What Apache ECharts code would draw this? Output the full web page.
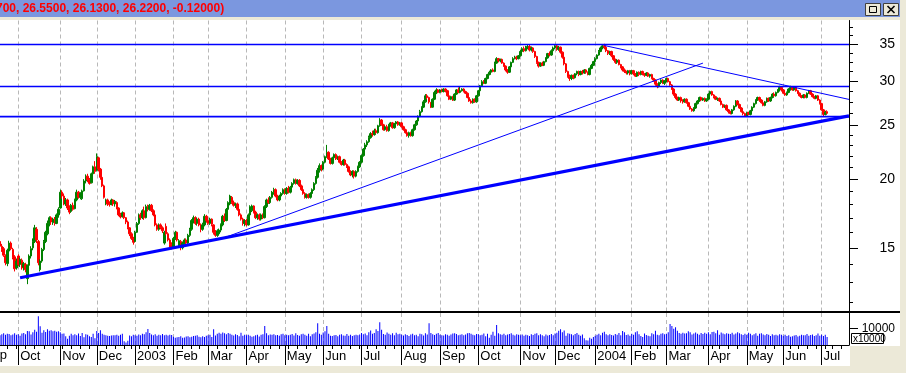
<!DOCTYPE html>
<html><head><meta charset="utf-8">
<script src="https://cdn.jsdelivr.net/npm/echarts@6/dist/echarts.min.js"></script>
<style>html,body{margin:0;padding:0;background:#fff;overflow:hidden}#c{width:906px;height:373px}</style>
</head><body><div id="c"></div>
<script>
// ---------- data ----------
const firstCategory = '2002-09-17';
const categoryCount = 466;
const holidays = ['2002-11-28','2002-12-25','2003-01-01','2003-01-20','2003-02-17','2003-04-18','2003-05-26','2003-07-04','2003-09-01','2003-11-27','2003-12-25','2004-01-01','2004-01-19','2004-02-16','2004-04-09','2004-05-31','2004-06-11','2004-07-05'];
const monthNames = ['Jan','Feb','Mar','Apr','May','Jun','Jul','Aug','Sep','Oct','Nov','Dec'];
const leadingMonthLabel = 'Sep';

// [open, close, low, high]
const candles = [
// Sep 2002
[15.40,15.10,15.00,15.50],[15.10,14.90,14.75,15.25],[14.95,14.55,14.45,15.05],[14.50,14.10,13.95,14.60],[14.05,14.85,13.90,14.95],[14.80,15.30,14.70,15.45],[15.30,14.95,14.85,15.40],[14.90,14.40,14.30,15.00],[14.45,13.75,13.60,14.55],[13.80,14.20,13.70,14.35],
// Oct 2002
[14.50,14.00,13.90,14.60],[14.00,14.30,13.85,14.40],[14.25,13.80,13.70,14.35],[13.85,14.05,13.65,14.15],[14.00,13.70,13.55,14.10],[13.20,13.95,12.90,14.00],[13.95,14.50,13.80,14.60],[14.50,14.95,14.35,15.10],[15.00,15.40,14.85,15.60],[15.40,16.30,15.30,16.50],
[16.20,15.50,15.30,16.35],[15.40,14.10,13.95,15.50],[13.70,14.20,13.60,14.30],[14.20,14.90,14.10,15.00],[14.90,15.40,14.80,15.50],[15.40,16.00,15.30,16.10],[15.90,16.60,15.80,16.80],[16.60,17.00,16.40,17.10],[17.00,16.70,16.50,17.10],[16.65,16.90,16.50,17.00],
[16.90,16.60,16.45,17.05],[16.60,17.20,16.55,17.30],[17.20,17.60,17.00,17.75],
// Nov 2002
[17.70,18.90,17.65,19.10],[18.90,18.60,18.40,19.05],[18.60,18.00,17.90,18.80],[18.00,18.30,17.85,18.45],[18.30,17.70,17.55,18.40],[17.70,17.40,17.25,17.90],[17.45,17.90,17.35,18.00],[17.90,17.60,17.50,18.10],[17.65,18.30,17.60,18.40],[18.30,18.90,18.20,19.10],
[18.90,18.50,18.40,19.00],[18.50,18.80,18.35,18.90],[18.40,19.00,18.30,19.10],[19.00,19.80,18.95,19.95],[19.80,20.20,19.60,20.35],[20.20,19.90,19.70,20.40],[19.90,19.60,19.50,20.05],[19.65,20.40,19.60,20.50],[20.40,21.00,20.30,21.10],[21.00,20.60,20.40,21.50],
// Dec 2002
[20.70,21.90,20.60,22.20],[21.80,20.80,20.60,21.90],[20.80,20.10,19.90,20.90],[20.10,19.40,19.30,20.20],[19.40,18.50,18.40,19.50],[18.00,18.30,17.90,18.40],[18.30,18.00,17.85,18.40],[18.05,17.95,17.80,18.20],[17.95,18.30,17.90,18.40],[18.30,18.00,17.85,18.35],
[18.00,18.20,17.80,18.30],[18.10,17.70,17.60,18.20],[17.70,17.20,17.10,17.75],[17.20,17.05,16.95,17.35],[17.10,17.35,17.00,17.45],[17.35,17.00,16.90,17.40],[17.00,16.70,16.55,17.05],[16.70,16.30,16.20,16.80],[16.30,15.90,15.75,16.35],[15.90,15.60,15.50,16.00],
[15.60,15.35,15.20,15.70],
// Jan 2003
[15.40,16.00,15.35,16.10],[16.00,16.60,15.95,16.70],[16.60,17.20,16.50,17.30],[17.20,17.00,16.85,17.35],[17.00,17.50,16.90,17.60],[17.50,17.00,16.85,17.80],[17.00,17.80,16.95,17.95],[17.80,17.60,17.45,17.95],[17.60,17.90,17.50,18.00],[17.90,17.50,17.40,18.00],
[17.50,17.20,17.10,17.60],[17.20,16.50,16.40,17.25],[16.50,16.20,16.10,16.60],[16.20,16.50,16.10,16.60],[16.50,16.30,16.20,16.60],[16.30,16.10,15.95,16.40],[15.30,16.00,15.20,16.10],[16.40,15.90,15.80,16.60],[15.90,15.50,15.40,16.00],[15.50,15.20,15.05,15.60],
[15.20,15.00,14.90,15.35],
// Feb 2003
[15.00,15.60,14.95,15.70],[15.60,16.00,15.50,16.10],[16.00,15.50,15.40,16.05],[15.15,15.45,15.10,15.55],[15.40,15.05,14.85,15.50],[15.00,15.30,14.90,15.40],[15.30,15.50,15.20,15.60],[15.50,15.30,15.20,15.60],[15.30,15.80,15.25,15.90],[15.80,16.20,15.70,16.30],
[16.20,16.80,16.10,16.90],[16.80,17.00,16.60,17.15],[17.00,16.60,16.50,17.10],[16.60,16.90,16.45,17.00],[16.90,16.50,16.40,17.00],[16.50,16.20,16.00,16.60],[16.20,16.50,16.10,16.65],[16.50,17.10,16.40,17.25],[17.10,16.80,16.65,17.20],
// Mar 2003
[16.80,16.60,16.50,16.95],[16.60,16.90,16.50,17.00],[16.90,16.55,16.40,16.95],[16.50,16.00,15.85,16.55],[16.00,15.80,15.70,16.15],[15.80,16.10,15.70,16.20],[15.90,16.15,15.80,16.25],[16.15,16.50,16.00,16.60],[16.50,17.10,16.40,17.20],[17.10,16.80,16.70,17.30],
[16.80,17.60,16.75,17.70],[17.60,18.10,17.50,18.20],[18.00,18.60,17.90,18.70],[18.50,18.10,18.00,18.60],[18.10,17.90,17.80,18.25],[17.90,18.00,17.70,18.10],[18.00,17.60,17.50,18.10],[17.60,17.20,17.10,17.70],[17.20,16.90,16.80,17.30],[16.90,16.60,16.45,17.00],
[16.60,16.80,16.40,16.90],
// Apr 2003
[16.80,16.50,16.40,16.90],[16.50,17.20,16.45,17.30],[17.20,17.80,17.10,17.90],[17.50,17.85,17.40,17.95],[17.85,17.40,17.30,17.90],[17.40,17.00,16.90,17.50],[17.00,17.20,16.85,17.30],[17.20,16.90,16.80,17.30],[16.90,17.20,16.80,17.30],[17.20,17.00,16.90,17.30],
[17.00,17.80,16.95,17.90],[17.80,18.30,17.70,18.40],[18.30,18.10,18.00,18.50],[18.10,18.50,18.00,18.60],[18.50,18.90,18.40,19.00],[18.90,19.10,18.70,19.25],[19.10,18.60,18.50,19.20],[18.60,18.30,18.20,18.70],[18.30,18.60,18.20,18.70],[18.60,18.80,18.40,18.90],
[18.80,19.10,18.70,19.20],
// May 2003
[19.10,18.80,18.70,19.20],[18.80,19.20,18.70,19.30],[19.20,18.90,18.80,19.40],[18.90,19.30,18.80,19.40],[19.30,19.60,19.20,19.70],[19.60,19.90,19.50,20.00],[19.90,19.60,19.50,20.00],[19.60,19.85,19.50,19.95],[19.85,19.40,19.30,19.95],[19.40,19.10,19.00,19.50],
[19.10,18.80,18.70,19.20],[18.80,18.50,18.40,18.90],[18.50,18.70,18.40,18.80],[18.70,18.50,18.40,18.80],[18.50,18.80,18.40,18.90],[18.80,19.10,18.70,19.20],[19.10,19.60,19.00,19.70],[19.60,20.10,19.50,20.20],[20.10,20.70,20.00,20.90],[20.70,21.10,20.50,21.30],
[21.10,20.80,20.60,21.20],
// Jun 2003
[20.80,21.40,20.70,21.50],[21.40,21.90,21.30,22.00],[21.90,22.30,21.80,23.00],[22.30,21.70,21.60,22.40],[21.70,21.30,21.20,21.80],[21.30,21.80,21.20,21.90],[21.80,22.10,21.70,22.20],[22.10,21.70,21.60,22.20],[21.70,21.90,21.60,22.00],[21.90,21.40,21.30,22.00],
[21.40,21.20,21.10,21.50],[21.20,21.60,21.10,21.70],[21.60,21.20,21.10,21.70],[21.20,21.00,20.90,21.30],[21.00,20.60,20.50,21.10],[20.60,20.30,20.20,20.70],[20.30,20.60,20.10,20.70],[20.60,20.20,20.00,20.70],[20.20,20.60,20.10,20.70],[20.60,21.00,20.50,21.10],
[21.00,21.40,20.90,21.50],
// Jul 2003
[21.40,22.00,21.30,22.10],[22.00,22.60,21.90,22.70],[22.60,23.00,22.50,23.20],[23.00,23.30,22.80,23.45],[23.30,23.70,23.20,23.90],[23.70,24.10,23.60,24.25],[24.10,24.00,23.80,24.40],[24.00,24.40,23.90,24.60],[24.40,24.20,24.10,24.60],[24.20,24.90,24.10,25.00],
[24.90,25.50,24.80,25.70],[25.50,25.00,24.90,25.60],[25.00,24.50,24.40,25.10],[24.50,24.80,24.40,24.90],[24.80,24.40,24.30,25.00],[24.40,25.00,24.30,25.10],[25.00,25.20,24.80,25.30],[25.20,24.70,24.60,25.30],[24.70,25.10,24.60,25.20],[25.10,25.30,25.00,25.40],
[25.30,25.00,24.90,25.40],[25.00,25.20,24.90,25.30],
// Aug 2003
[25.20,24.80,24.70,25.30],[24.80,24.50,24.40,24.90],[24.50,24.20,24.10,24.60],[24.20,23.90,23.80,24.30],[23.90,24.20,23.70,24.30],[24.20,23.90,23.80,24.30],[23.90,24.50,23.80,24.60],[24.50,25.00,24.40,25.10],[25.00,25.40,24.90,25.50],[25.40,25.90,25.30,26.00],
[25.90,26.40,25.80,26.60],[26.40,26.90,26.30,27.00],[26.90,27.50,26.80,27.70],[27.50,28.20,27.40,28.40],[28.20,28.00,27.80,28.40],[28.00,27.50,27.30,28.10],[27.40,26.90,26.80,27.50],[26.90,27.80,26.85,27.90],[27.80,28.60,27.70,28.80],[28.60,28.90,28.40,29.10],
[28.90,28.60,28.50,29.00],
// Sep 2003
[28.60,28.90,28.50,29.00],[28.90,28.70,28.60,29.05],[28.70,29.00,28.60,29.10],[29.00,28.80,28.60,29.10],[28.80,28.20,28.10,28.90],[28.20,27.80,27.70,28.30],[27.80,28.10,27.70,28.20],[28.10,27.70,27.60,28.20],[27.70,28.40,27.60,28.50],[28.40,28.90,28.30,29.00],
[28.90,28.60,28.50,29.20],[28.60,28.80,28.50,29.30],[28.80,29.00,28.70,29.10],[29.00,28.70,28.60,29.10],[28.70,28.50,28.40,28.80],[28.50,28.00,27.90,28.60],[28.00,27.60,27.50,28.10],[27.60,27.40,27.30,27.80],[27.40,27.80,27.30,27.90],[27.80,27.50,27.40,27.90],
[27.50,28.20,27.40,28.30],
// Oct 2003
[28.20,28.80,28.10,28.90],[28.80,29.40,28.70,29.50],[29.40,29.90,29.30,30.10],[29.90,29.70,29.60,30.10],[29.70,30.30,29.60,30.40],[30.30,30.80,30.20,30.90],[30.80,31.10,30.70,31.30],[31.10,31.40,31.00,31.50],[31.40,31.20,31.10,31.60],[31.20,32.30,31.10,32.50],
[32.30,32.90,32.20,33.10],[32.90,32.60,32.40,33.00],[32.60,32.80,32.40,32.90],[32.80,32.30,32.20,32.90],[32.30,31.90,31.80,32.40],[31.90,31.40,31.20,32.00],[31.40,31.10,30.90,31.50],[31.10,31.80,31.00,31.90],[31.80,32.40,31.70,32.50],[32.40,32.90,32.30,33.10],
[32.90,33.10,32.80,33.30],[33.10,32.90,32.70,33.30],[32.90,33.30,32.80,33.40],
// Nov 2003
[33.30,33.90,33.20,34.10],[33.90,34.30,33.80,34.50],[34.30,34.00,33.80,34.60],[34.00,34.40,33.90,34.70],[34.40,34.60,34.20,34.95],[34.60,34.10,33.90,34.90],[34.10,34.40,33.90,34.60],[34.40,33.90,33.70,34.50],[33.90,33.20,33.00,34.00],[33.20,32.40,32.20,33.30],
[32.40,31.90,31.70,32.50],[31.90,32.30,31.80,32.40],[32.30,32.00,31.90,32.50],[32.00,32.50,31.90,32.60],[32.50,33.00,32.40,33.10],[33.00,33.60,32.90,33.70],[33.60,33.40,33.20,33.90],[33.40,34.00,33.30,34.20],[34.00,34.40,33.90,34.60],
// Dec 2003
[34.40,34.70,34.20,34.95],[34.70,34.20,34.00,34.90],[34.20,34.50,34.00,34.70],[34.50,33.80,33.60,34.60],[33.80,33.10,32.90,33.90],[33.10,32.20,32.00,33.20],[32.20,31.20,31.00,32.30],[31.20,30.60,30.40,31.30],[30.60,30.30,30.00,30.80],[30.30,30.70,30.10,30.80],
[30.70,30.40,30.20,30.80],[30.40,30.90,30.30,31.00],[30.90,31.20,30.70,31.30],[31.20,30.80,30.60,31.30],[30.80,31.20,30.70,31.30],[31.20,31.00,30.80,31.40],[31.00,31.40,30.90,31.50],[31.40,31.10,30.90,31.50],[31.10,30.80,30.70,31.20],[30.80,31.60,30.70,31.70],
[31.60,32.00,31.50,32.20],[32.00,32.50,31.90,32.60],
// Jan 2004
[32.50,32.90,32.40,33.10],[32.90,33.40,32.80,33.50],[33.40,33.90,33.30,34.10],[33.90,34.40,33.80,34.60],[34.40,34.70,34.20,34.90],[34.70,34.50,34.20,35.00],[34.50,34.00,33.80,34.70],[34.00,33.60,33.40,34.10],[33.60,33.90,33.40,34.00],[33.90,33.30,33.10,34.00],
[33.30,32.80,32.60,33.40],[32.80,32.40,32.20,32.90],[32.40,32.70,32.20,32.80],[32.70,32.10,32.00,32.80],[32.10,31.80,31.60,32.20],[31.80,31.40,31.20,31.90],[31.40,31.20,31.00,31.60],[31.20,31.00,30.80,31.30],[31.00,31.30,30.80,31.40],[31.30,30.90,30.70,31.40],
// Feb 2004
[30.90,31.30,30.80,31.40],[31.30,30.90,30.70,31.40],[30.90,30.60,30.50,31.00],[30.60,31.10,30.50,31.20],[31.10,30.80,30.60,31.20],[30.80,31.20,30.70,31.30],[31.20,30.90,30.70,31.30],[30.90,30.70,30.50,31.00],[30.70,31.00,30.60,31.10],[31.00,30.60,30.50,31.10],
[30.60,30.80,30.40,30.90],[30.80,30.30,30.20,30.90],[30.30,30.10,29.90,30.40],[30.10,29.60,29.40,30.20],[29.60,29.30,29.10,29.70],[29.30,29.80,29.20,29.90],[29.80,30.10,29.60,30.20],[30.10,29.70,29.60,30.20],[29.70,30.00,29.50,30.10],
// Mar 2004
[30.00,30.30,29.80,30.40],[30.30,29.90,29.80,30.40],[29.90,29.50,29.40,30.00],[29.50,29.00,28.90,29.60],[29.00,28.40,28.20,29.10],[28.40,28.00,27.80,28.50],[28.00,27.70,27.60,28.10],[27.70,28.00,27.60,28.10],[28.00,27.60,27.40,28.10],[27.60,27.50,27.30,27.80],
[27.50,27.80,27.40,27.90],[27.80,27.40,27.30,27.90],[27.40,27.00,26.90,27.50],[27.00,26.70,26.60,27.10],[26.70,26.50,26.40,26.80],[26.50,26.80,26.40,26.90],[26.80,27.30,26.70,27.40],[27.30,27.60,27.20,27.70],[27.60,28.00,27.50,28.10],[28.00,27.70,27.60,28.10],
[27.70,27.90,27.60,28.00],[27.90,27.60,27.50,28.00],[27.60,27.80,27.50,27.90],
// Apr 2004
[27.80,28.40,27.70,28.50],[28.40,28.70,28.30,28.80],[28.70,28.30,28.20,28.80],[28.30,28.10,27.90,28.40],[28.10,27.80,27.70,28.20],[27.80,27.90,27.60,28.00],[27.90,27.60,27.50,28.00],[27.60,27.20,27.10,27.70],[27.20,26.90,26.80,27.30],[26.90,27.10,26.80,27.20],
[27.10,26.60,26.50,27.20],[26.60,26.40,26.20,26.70],[26.40,26.20,26.10,26.50],[26.20,26.60,26.10,26.70],[26.60,27.00,26.50,27.10],[27.00,27.60,26.90,27.70],[27.60,27.20,27.10,27.70],[27.20,26.80,26.70,27.30],[26.80,26.40,26.30,26.90],[26.40,26.20,26.00,26.50],
[26.20,25.90,25.85,26.30],
// May 2004
[25.90,26.30,25.85,26.40],[26.30,26.10,26.00,26.40],[26.10,26.50,26.00,26.60],[26.50,26.90,26.40,27.00],[26.90,27.30,26.80,27.40],[27.30,27.70,27.20,27.80],[27.70,28.00,27.60,28.10],[28.00,27.70,27.50,28.10],[27.70,27.40,27.30,27.80],[27.40,27.10,27.00,27.50],
[27.10,27.50,27.00,27.60],[27.50,27.90,27.40,28.00],[27.90,27.60,27.50,28.00],[27.60,28.00,27.50,28.10],[28.00,28.40,27.90,28.50],[28.40,28.20,28.10,28.60],[28.20,28.60,28.10,28.70],[28.60,28.90,28.50,29.00],[28.90,29.20,28.70,29.40],[29.20,28.90,28.70,29.30],
// Jun 2004
[28.90,28.50,28.40,29.00],[28.50,28.30,28.20,28.60],[28.30,28.60,28.20,28.70],[28.60,29.00,28.50,29.10],[29.00,29.20,28.80,29.40],[29.20,28.90,28.80,29.30],[28.90,29.20,28.80,29.30],[29.20,28.80,28.70,29.30],[28.80,28.50,28.40,28.90],[28.50,28.20,28.10,28.60],
[28.20,28.00,27.90,28.30],[28.00,28.30,27.90,28.40],[28.30,28.00,27.90,28.40],[28.00,28.50,27.90,28.60],[28.50,28.80,28.40,28.90],[28.80,28.40,28.30,28.90],[28.40,28.10,28.00,28.50],[28.10,27.90,27.80,28.20],[27.90,28.20,27.80,28.30],[28.20,27.70,27.60,28.30],
[27.70,27.30,27.20,27.80],
// Jul 2004
[27.30,26.60,26.50,27.40],[26.60,26.10,25.85,26.70],[26.10,26.34,26.00,26.50],[26.40,26.22,26.13,26.55]
];

// volume, in units of the axis (x10000)
const volume = [
5800,6400,7100,6200,6800,6600,5900,6300,7000,6100,
6500,5600,6900,7200,6400,8400,8200,6300,7600,9200,8000,17300,11200,7400,8900,7800,9400,8600,8800,8200,8500,7900,8300,
7600,6700,6900,5200,3800,5600,6700,5800,6500,5900,6900,5400,7200,4600,6400,6100,5200,4800,6700,4100,
8400,7200,8800,6700,6200,5800,5600,5400,5700,5900,5800,6100,5600,6200,6800,2300,1500,2600,5700,5300,6100,
5800,5600,6300,5900,6700,6400,7600,9600,7200,6300,5800,6400,5500,6200,5900,6600,5800,6100,5700,6200,6000,
4900,4400,4600,4800,5200,4300,4500,5100,5300,4700,4900,5400,5600,5800,5000,4700,5300,4800,5500,
5900,6200,4800,9500,5700,6800,7400,6700,7500,7000,6500,7200,6800,6100,5700,6400,6000,5300,7300,5600,6200,
5800,6100,5500,4900,5300,5800,6200,5100,6200,6500,11400,7000,5900,6300,6100,6400,5800,6000,5500,6500,6700,
5900,6200,5800,6100,6600,5700,7100,6000,5600,6500,6800,6100,5500,6700,5200,6400,6900,7600,13000,6700,6200,
7500,8300,11400,6800,5600,5400,5800,6000,5300,6100,6400,5700,5500,6600,5600,6200,5400,5900,6100,5800,6300,
7200,6400,6900,5800,7600,8700,6700,7200,9400,8400,13700,9100,6600,6200,7500,6700,6200,7000,5800,7300,6400,6700,
6100,5700,6500,6000,5400,6300,6700,5900,6100,5200,6800,6400,5700,7100,6300,13100,7200,6400,6000,6800,7200,
6200,5900,5700,6400,6100,5600,6300,6900,7100,6600,5800,6200,6500,5900,6300,7000,7200,6800,6100,5900,6600,
6500,5800,6200,6900,5300,6700,4300,6100,8000,5600,12000,7100,6400,6200,6800,5900,6300,6600,7000,6200,5700,6400,6100,
5800,6300,5600,6200,5900,5400,6500,6000,6800,7100,5800,6400,5900,5200,6300,5700,6000,6600,5800,
6900,7400,8600,9400,7600,8700,5600,7000,6700,6400,5900,6600,7200,6100,5500,6300,4000,2900,2700,4300,3800,4800,
5600,6200,6800,5900,7300,7900,6500,5800,6400,6000,5700,6600,6100,7200,5900,8400,7600,6000,6300,5500,
6700,6200,7600,8300,6500,5400,4800,6900,6000,5600,5300,7100,6400,8600,6200,5900,6700,7000,6400,
6800,7700,12600,11400,9800,10600,8600,7200,6800,7400,6900,7100,8200,7600,6300,6900,7500,6700,6100,7200,6600,7300,6800,
7600,6500,7800,8000,7100,8900,6200,7500,6900,6400,7100,6800,6600,7400,6300,6900,7600,7000,6500,6000,6800,
6200,7300,6700,5900,6500,7100,5600,6800,7000,6300,5800,6600,6100,5400,6500,5900,6200,5700,6400,6100,
5600,6100,5400,5800,4900,5300,5700,6000,5100,5500,6200,5800,5900,6600,5500,6000,6300,5400,5800,6900,5600,
6200,5400,6100,4800
];

const priceMax = 38.55, priceMin = 11.54;
const volumeMax = 19200;
const priceTickValues = [15, 20, 25, 30, 35];
const priceTickLabels = ['15', '20', '25', '30', '35'];
const priceMinorTicks = [12, 13, 14, 16, 17, 18, 19, 21, 22, 23, 24, 26.25, 27.5, 28.75, 31.25, 32.5, 33.75, 36.25, 37.5];
const volumeTickValues = [10000];
const volumeTickLabels = ['10000'];
const horizontalLevels = [34.9, 29.31, 25.86];
const trendThick = [['2002-10-02', 13.25], ['2004-07-23', 25.95]];
const trendUp = [['2003-03-14', 15.65], ['2004-03-29', 32.3]];
const trendDown = [['2004-01-09', 34.75], ['2004-07-23', 27.78]];
const titleText = '700, 26.5500, 26.1300, 26.2200, -0.12000)';

// ---------- categories (trading days) ----------
function iso(d) { return d.toISOString().slice(0, 10); }
const dates = [];
{
  const hs = new Set(holidays);
  const d = new Date(firstCategory + 'T00:00:00Z');
  while (dates.length < categoryCount) {
    const wd = d.getUTCDay();
    const s = iso(d);
    if (wd !== 0 && wd !== 6 && !hs.has(s)) dates.push(s);
    d.setUTCDate(d.getUTCDate() + 1);
  }
}
const monthStart = dates.map((s, i) => i > 0 && s.slice(5, 7) !== dates[i - 1].slice(5, 7));
const weekStart = dates.map((s, i) => {
  if (i === 0) return false;
  const a = new Date(s + 'T00:00:00Z').getUTCDay(), b = new Date(dates[i - 1] + 'T00:00:00Z').getUTCDay();
  return a < b && !monthStart[i];
});
const monthFn = (i) => monthStart[i];
const weekFn = (i) => weekStart[i];
const labelFn = (v) => {
  const m = +v.slice(5, 7);
  return m === 1 ? v.slice(0, 4) : monthNames[m - 1];
};

const FONT = 'Liberation Sans, Arial, sans-serif';
const dash = { color: '#b8b8b8', width: 1, type: [4, 3] };

function tickSeries(xi, yi, values, labels, len, fontSize) {
  return {
    type: 'custom', xAxisIndex: xi, yAxisIndex: yi, clip: false, silent: true, z: 10,
    data: values.map((v) => [0, v]),
    renderItem: function (params, api) {
      const y = Math.round(api.coord([0, api.value(1)])[1]) + 0.5;
      const x0 = params.coordSys.x + params.coordSys.width;
      const ch = [{ type: 'line', shape: { x1: x0, y1: y, x2: x0 + len, y2: y }, style: { stroke: '#000', lineWidth: 1 } }];
      if (labels) {
        ch.push({ type: 'text', style: { x: 895, y: y, text: labels[params.dataIndex], fill: '#000', font: fontSize + 'px ' + FONT, align: 'right', verticalAlign: 'middle' } });
      }
      return { type: 'group', children: ch };
    }
  };
}

function lineSeries(data, width) {
  return {
    type: 'line', xAxisIndex: 0, yAxisIndex: 0, data: data, symbol: 'none', silent: true, z: 4,
    lineStyle: { color: '#0000ff', width: width }, animation: false
  };
}

const series = [
  {
    type: 'candlestick', xAxisIndex: 0, yAxisIndex: 0, data: candles, barWidth: 2, z: 3,
    itemStyle: { color: '#008000', color0: '#ff0000', borderColor: '#008000', borderColor0: '#ff0000', borderWidth: 1 }
  },
  {
    type: 'bar', xAxisIndex: 1, yAxisIndex: 1, data: volume, barWidth: 1, itemStyle: { color: '#0000ff' }, large: false
  },
  lineSeries(trendThick, 3.2),
  lineSeries(trendUp, 1),
  lineSeries(trendDown, 1),
  tickSeries(0, 0, priceTickValues, priceTickLabels, 9, 14),
  tickSeries(0, 0, priceMinorTicks, null, 4, 14),
  tickSeries(1, 1, volumeTickValues, volumeTickLabels, 9, 12)
];
horizontalLevels.forEach((p) => series.push(lineSeries([[dates[0], p], [dates[dates.length - 1], p]], 1.6)));

const option = {
  animation: false,
  backgroundColor: '#ffffff',
  grid: [
    { left: 0, right: 57, top: 20.5, bottom: 62 },
    { left: 0, right: 57, top: 313, bottom: 28 }
  ],
  xAxis: [
    { gridIndex: 0, type: 'category', data: dates, boundaryGap: false, axisLine: { show: false }, axisTick: { show: false }, axisLabel: { show: false },
      splitLine: { show: true, interval: monthFn, lineStyle: dash } },
    { gridIndex: 1, type: 'category', data: dates, boundaryGap: false, position: 'bottom',
      axisLine: { show: true, onZero: false, lineStyle: { color: '#000', width: 1 } },
      axisTick: { show: true, interval: monthFn, length: 20, lineStyle: { color: '#000' } },
      axisLabel: { show: true, interval: monthFn, formatter: labelFn, align: 'left', padding: [0, 0, 0, 2], margin: 5, color: '#000', fontSize: 13, fontFamily: FONT },
      splitLine: { show: true, interval: monthFn, lineStyle: dash } },
    { gridIndex: 1, type: 'category', data: dates, boundaryGap: false, position: 'bottom', axisLine: { show: false, onZero: false },
      axisTick: { show: true, interval: weekFn, length: 4, lineStyle: { color: '#000' } }, axisLabel: { show: false }, splitLine: { show: false } }
  ],
  yAxis: [
    { gridIndex: 0, type: 'log', logBase: 10, min: priceMin, max: priceMax, position: 'right',
      axisLine: { show: true, lineStyle: { color: '#000' } }, axisTick: { show: false }, axisLabel: { show: false }, splitLine: { show: false } },
    { gridIndex: 1, type: 'value', min: 0, max: volumeMax, position: 'right',
      axisLine: { show: true, lineStyle: { color: '#000' } }, axisTick: { show: false }, axisLabel: { show: false }, splitLine: { show: false } }
  ],
  series: series,
  graphic: [
    { type: 'text', x: -16.2, y: 349, style: { text: leadingMonthLabel, fill: '#000', font: '13px ' + FONT }, z: 50 },
    { type: 'rect', shape: { x: 0, y: 0, width: 900, height: 17 }, style: { fill: '#7b97df' }, z: 100 },
    { type: 'text', x: -4, y: 9, style: { text: titleText, fill: '#ff0000', font: 'bold 12px ' + FONT, verticalAlign: 'middle' }, z: 101 },
    { type: 'rect', shape: { x: 0, y: 17, width: 900, height: 3 }, style: { fill: '#ece9d8' }, z: 100 },
    { type: 'rect', shape: { x: 865.5, y: 3.5, width: 15, height: 12 }, style: { fill: '#ece9d8', stroke: '#404040', lineWidth: 1 }, z: 101 },
    { type: 'rect', shape: { x: 869.5, y: 6.5, width: 7, height: 6 }, style: { fill: 'none', stroke: '#000', lineWidth: 1 }, z: 102 },
    { type: 'rect', shape: { x: 883.5, y: 3.5, width: 15, height: 12 }, style: { fill: '#ece9d8', stroke: '#404040', lineWidth: 1 }, z: 101 },
    { type: 'line', shape: { x1: 887.5, y1: 6, x2: 894.5, y2: 13 }, style: { stroke: '#000', lineWidth: 1.6 }, z: 102 },
    { type: 'line', shape: { x1: 894.5, y1: 6, x2: 887.5, y2: 13 }, style: { stroke: '#000', lineWidth: 1.6 }, z: 102 },
    { type: 'rect', shape: { x: 900, y: 0, width: 6, height: 373 }, style: { fill: '#ece9d8' }, z: 100 },
    { type: 'rect', shape: { x: 0, y: 311, width: 900, height: 2 }, style: { fill: '#000' }, z: 100 },
    { type: 'rect', shape: { x: 850, y: 346, width: 50, height: 20 }, style: { fill: '#ece9d8' }, z: 100 },
    { type: 'rect', shape: { x: 0, y: 366, width: 906, height: 7 }, style: { fill: '#ece9d8' }, z: 100 },
    { type: 'rect', shape: { x: 851.5, y: 333.5, width: 32, height: 10 }, style: { fill: '#fff', stroke: '#000', lineWidth: 1 }, z: 101 },
    { type: 'text', x: 853, y: 339, style: { text: 'x10000', fill: '#000', font: '10px ' + FONT, verticalAlign: 'middle' }, z: 102 }
  ]
};

const chart = echarts.init(document.getElementById('c'), null, { renderer: 'canvas' });
chart.setOption(option);
</script>
</body></html>
